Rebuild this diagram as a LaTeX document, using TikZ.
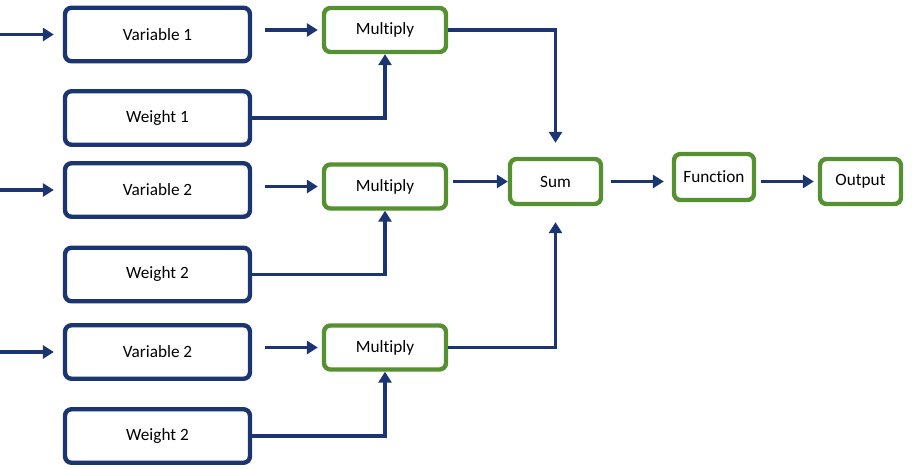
\documentclass[tikz,border=0pt]{standalone}
\usepackage{fontspec}
\setmainfont[Ligatures={NoCommon}]{Carlito}
\usepackage{xcolor}
\usetikzlibrary{arrows.meta}
\definecolor{navy}{RGB}{26,53,113}
\definecolor{leaf}{RGB}{85,145,48}

\begin{document}
\begin{tikzpicture}[x=0.02cm, y=-0.02cm,
				>={Triangle[width=0.26cm, length=0.22cm]},
				every node/.style={font=\fontsize{9.8}{11}\selectfont},
				inbox/.style={draw=navy, line width=2.5pt, rounded corners=0.13cm, minimum width=3.7cm, minimum height=1.07cm},
				opbox/.style={draw=leaf, line width=2.5pt, rounded corners=0.13cm},
				link/.style={->, navy, line width=1.9pt}]
				\useasboundingbox (0,0) rectangle (912,469);
				% inputs and weights
				\node at (157.5,34.5) (var1) [inbox] {Variable 1};
				\node at (157.5,118) (wt1) [inbox] {Weight 1};
				\node at (157.5,190) (var2) [inbox] {Variable 2};
				\node at (157.5,274.5) (wt2) [inbox] {Weight 2};
				\node at (157.5,352) (var3) [inbox] {Variable 2};
				\node at (157.5,436) (wt3) [inbox] {Weight 2};
				% operations
				\node at (385,30) (mul1) [opbox, minimum width=2.44cm, minimum height=0.88cm] {Multiply};
				\node at (385,186.5) (mul2) [opbox, minimum width=2.44cm, minimum height=0.88cm] {Multiply};
				\node at (385,347.5) (mul3) [opbox, minimum width=2.44cm, minimum height=0.88cm] {Multiply};
				\node at (555.5,181.5) (sum) [opbox, minimum width=1.82cm, minimum height=0.9cm] {Sum};
				\node at (714,177) (func) [opbox, minimum width=1.6cm, minimum height=0.92cm] {Function};
				\node at (860.5,181.5) (out) [opbox, minimum width=1.62cm, minimum height=0.9cm] {Output};
				\coordinate (in1) at (0,34.5);
				\coordinate (in2) at (0,190);
				\coordinate (in3) at (0,352);
				% connectors
				\draw[link, shorten >=0.18cm] (in1) -- (var1);
				\draw[link, shorten >=0.18cm] (in2) -- (var2);
				\draw[link, shorten >=0.18cm] (in3) -- (var3);
				\draw[link, shorten <=0.26cm, shorten >=0.08cm] (var1.east |- mul1.west) -- (mul1.west);
				\draw[link, shorten <=0.26cm, shorten >=0.08cm] (var2.east |- mul2.west) -- (mul2.west);
				\draw[link, shorten <=0.26cm, shorten >=0.08cm] (var3.east |- mul3.west) -- (mul3.west);
				\draw[link] (wt1.east) -| (mul1.south);
				\draw[link] (wt2.east) -| (mul2.south);
				\draw[link] (wt3.east) -| (mul3.south);
				\draw[link, shorten >=0.28cm] (mul1.east) -| (sum.north);
				\draw[link, shorten >=0.32cm] (mul3.east) -| (sum.south);
				\draw[link, shorten <=0.1cm] (mul2.east |- sum.west) -- (sum.west);
				\draw[link, shorten <=0.16cm, shorten >=0.16cm] (sum.east) -- (sum.east -| func.west);
				\draw[link, shorten <=0.1cm, shorten >=0.08cm] (func.east |- out.west) -- (out.west);
			\end{tikzpicture}
\end{document}
